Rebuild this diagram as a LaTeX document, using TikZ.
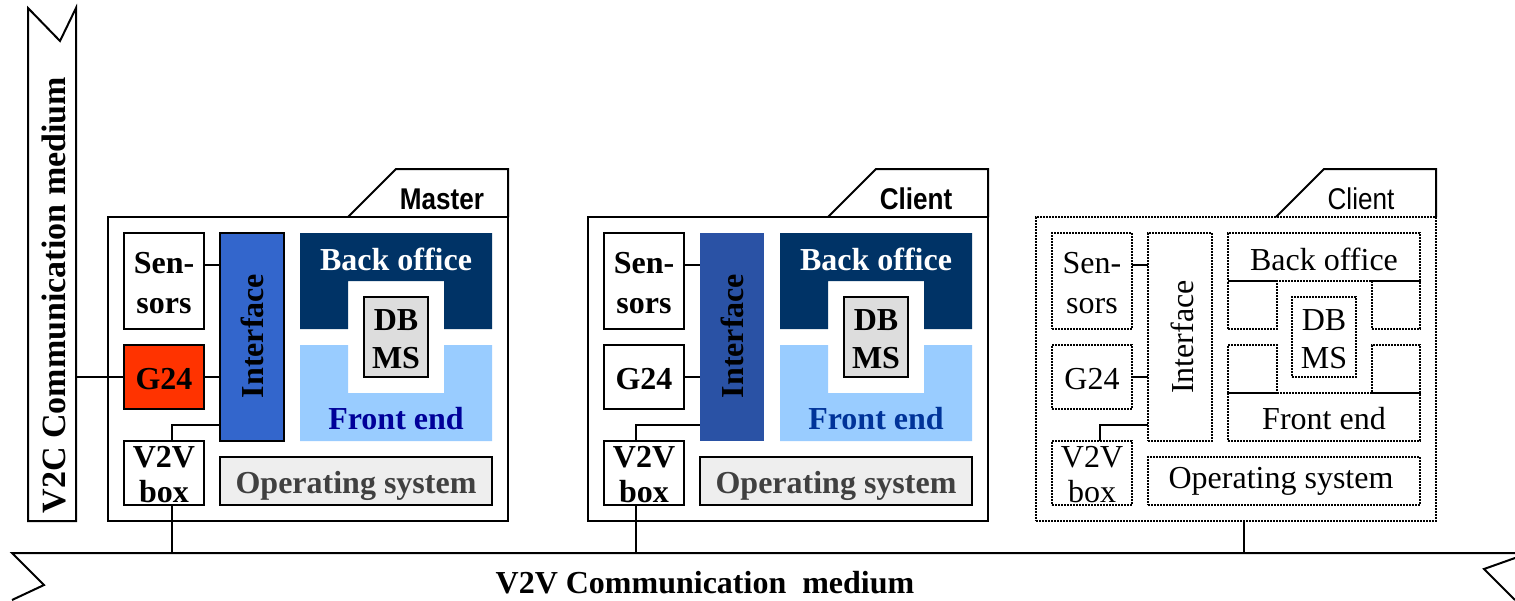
\documentclass[tikz,border=0pt]{standalone}
\usepackage{graphicx}
\usepackage{fontspec}
\setmainfont{Liberation Serif}
\newfontfamily\tabfont{Liberation Sans}
\definecolor{ifA}{HTML}{3366CC}
\definecolor{ifB}{HTML}{2A52A5}
\definecolor{backC}{HTML}{003366}
\definecolor{frontC}{HTML}{99CCFF}
\definecolor{frontTA}{HTML}{000099}
\definecolor{frontTB}{HTML}{003399}
\definecolor{osC}{HTML}{EEEEEE}
\definecolor{osT}{HTML}{404040}
\definecolor{dbC}{HTML}{DDDDDD}
\definecolor{gC}{HTML}{FF3300}
\tikzset{
  ln/.style={line width=2pt,black},
  blk/.style={rectangle,inner sep=0pt,outer sep=0pt,align=center},
  solidb/.style={blk,draw=black,line width=2pt,fill=white,font=\bfseries\fontsize{32}{40}\selectfont},
  dotb/.style={blk,draw=black,line width=2pt,dash pattern=on 2pt off 1pt,font=\fontsize{32}{40}\selectfont},
  solidtxt/.style={blk,font=\bfseries\fontsize{32}{40}\selectfont},
  plaintxt/.style={blk,font=\fontsize{32}{40}\selectfont},
  tabl/.style={inner sep=0pt,outer sep=0pt,font=\tabfont\fontsize{30}{34}\selectfont},
  tabb/.style={inner sep=0pt,outer sep=0pt,font=\tabfont\bfseries\fontsize{30}{34}\selectfont},
}
% name, x0, y0, x1, y1, style, text (text sits 2px below the box centre)
\newcommand{\bx}[7]{%
  \node[#6,minimum width={(#4-#2)*1pt},minimum height={(#5-#3)*1pt}] (#1) at ({(#2+#4)/2},{(#3+#5)/2}) {};
  \node[#6,draw=none,fill=none,yshift=-2pt] (#1T) at (#1.center) {#7};}
% solid system: name, x offset, interface style, G24 fill, front-end text colour, label x
\newcommand{\solidsys}[6]{%
  \begin{scope}[xshift=#2pt]
    \bx{box#1}{108}{217}{508}{521}{solidb}{}
    \coordinate (tabA#1) at (348,217);
    \coordinate (tabB#1) at (396,169);
    \coordinate (tabC#1) at (508,169);
    \draw[ln] (tabA#1) -- (tabB#1) -- (tabC#1) -- (box#1.north east);
    \node[tabb] (tabT#1) at (#6,199) {\scalebox{.87}[1]{#1}};
    \bx{sen#1}{124}{233}{204}{329}{solidb}{Sen-\\sors}
    \bx{ifc#1}{220}{233}{284}{441}{solidb,#3}{}
    \node[solidtxt,rotate=90] (ifT#1) at (252,336) {Interface};
    \fill[backC] (300,233) -- (492,233) -- (492,329) -- (444,329) -- (444,281) -- (348,281) -- (348,329) -- (300,329) -- cycle;
    \fill[frontC] (300,345) -- (348,345) -- (348,393) -- (444,393) -- (444,345) -- (492,345) -- (492,441) -- (300,441) -- cycle;
    \node[solidtxt,text=white] (bo#1) at (396,259) {Back office};
    \node[solidtxt,text=#5] (fe#1) at (396,419) {Front end};
    \bx{db#1}{364}{297}{428}{377}{solidb,fill=dbC,font=\bfseries\fontsize{32}{38}\selectfont}{DB\\MS}
    \bx{g#1}{124}{345}{204}{409}{solidb,fill=#4}{G24}
    \bx{v#1}{124}{441}{204}{505}{solidb,font=\bfseries\fontsize{32}{35}\selectfont}{V2V\\box}
    \bx{os#1}{220}{457}{492}{505}{solidb,fill=osC}{}
    \node[solidtxt,text=osT] (osL#1) at (356,486) {Operating system};
    \coordinate (senC#1) at (204,265);
  \end{scope}}
\begin{document}
\begin{tikzpicture}[x=1pt,y=-1pt]
\useasboundingbox (0,0) rectangle (1515,600);
% V2C banner
\coordinate (c1) at (28,8); \coordinate (c2) at (60,41); \coordinate (c3) at (76,8);
\coordinate (c4) at (76,521); \coordinate (c5) at (28,521);
\draw[ln,fill=white] (c1) -- (c2) -- (c3) -- (c4) -- (c5) -- cycle;
\node[solidtxt,font=\bfseries\fontsize{34}{40}\selectfont,rotate=90] (v2c) at (54,295) {V2C Communication medium};
% V2V banner
\coordinate (m1) at (12,553); \coordinate (m2) at (1515,553);
\coordinate (m3) at (44,585); \coordinate (m4) at (12,600);
\coordinate (m5) at (1515,558); \coordinate (m6) at (1484,569); \coordinate (m7) at (1515,600);
\draw[ln] (m2) -- (m1) -- (m3) -- (m4);
\draw[ln] (m5) -- (m6) -- (m7);
\node[solidtxt] (v2v) at (705,583) {V2V Communication\ \ medium};

\solidsys{Master}{0}{fill=ifA}{gC}{frontTA}{442}
\solidsys{Client}{480}{fill=ifB,draw=none}{white}{frontTB}{436}

% Master connectors
\draw[ln] (senCMaster) -- (senCMaster -| ifcMaster.west);
\draw[ln] (gMaster.east) -- (gMaster.east -| ifcMaster.west);
\coordinate (v2cEnd) at (76,377);
\draw[ln] (v2cEnd) -- (gMaster.west);
\coordinate (vtopM) at (172,441); \coordinate (vupM) at (172,425); \coordinate (vbotM) at (172,505); \coordinate (busM) at (172,553);
\draw[ln] (vtopM) -- (vupM) -- (vupM -| ifcMaster.west);
\draw[ln] (vbotM) -- (busM);
% Client connectors
\draw[ln] (senCClient) -- (senCClient -| ifcClient.west);
\draw[ln] (gClient.east) -- (gClient.east -| ifcClient.west);
\coordinate (vtopC) at (636,441); \coordinate (vupC) at (636,425); \coordinate (vbotC) at (636,505); \coordinate (busC) at (636,553);
\draw[ln] (vtopC) -- (vupC) -- (vupC -| ifcClient.west);
\draw[ln] (vbotC) -- (busC);

% Dotted client
\bx{boxD}{1036}{217}{1436}{521}{dotb}{}
\coordinate (tA) at (1276,217); \coordinate (tB) at (1324,169); \coordinate (tC) at (1436,169);
\draw[ln] (tA) -- (tB) -- (tC) -- (boxD.north east);
\node[tabl] (tabD) at (1361,199) {\scalebox{.87}[1]{Client}};
\bx{senD}{1052}{233}{1132}{329}{dotb}{Sen-\\sors}
\bx{ifcD}{1148}{233}{1212}{441}{dotb}{}
\node[plaintxt,rotate=90] (ifTD) at (1182,337) {Interface};
\bx{gD}{1052}{345}{1132}{409}{dotb}{G24}
\bx{vD}{1052}{441}{1132}{505}{dotb,font=\fontsize{32}{35}\selectfont}{V2V\\box}
\bx{osD}{1148}{457}{1420}{505}{dotb}{}
\node[plaintxt] (osLD) at (1281,481) {Operating system};
\bx{boD}{1228}{233}{1420}{281}{dotb}{Back office}
\bx{feD}{1228}{393}{1420}{441}{dotb}{Front end}
\bx{q1}{1228}{281}{1277}{329}{dotb}{}
\bx{q2}{1372}{281}{1420}{329}{dotb}{}
\bx{q3}{1228}{345}{1277}{393}{dotb}{}
\bx{q4}{1372}{345}{1420}{393}{dotb}{}
\bx{dbD}{1292}{297}{1356}{377}{dotb,font=\fontsize{32}{38}\selectfont}{DB\\MS}
\draw[ln] (q1.north west) -- (q1.north east);
\draw[ln] (q2.north west) -- (q2.north east);
\draw[ln] (q3.south west) -- (q3.south east);
\draw[ln] (q4.south west) -- (q4.south east);
\coordinate (senCD) at (1132,265);
\draw[ln] (senCD) -- (senCD -| ifcD.west);
\draw[ln] (gD.east) -- (gD.east -| ifcD.west);
\coordinate (vtopD) at (1100,441); \coordinate (vupD) at (1100,425);
\draw[ln] (vtopD) -- (vupD) -- (vupD -| ifcD.west);
\coordinate (boxDb) at (1244,521); \coordinate (busD) at (1244,553);
\draw[ln] (boxDb) -- (busD);
\end{tikzpicture}
\end{document}
